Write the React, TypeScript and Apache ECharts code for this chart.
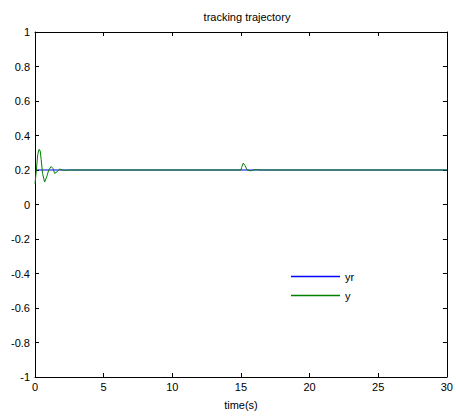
import React, { useEffect, useRef } from "react";
import * as echarts from "echarts";

const titleText = "tracking trajectory";
const xName = "time(s)";
const seriesNames = ["yr", "y"];

const yrTime = [0, 30];
const yrValues = [0.2, 0.2];

const yTime = [0, 0.1, 0.2, 0.3, 0.38, 0.45, 0.55, 0.7, 0.85, 1.0, 1.18, 1.3, 1.43, 1.6, 1.8, 2.0, 2.2, 2.5, 3, 15, 15.05, 15.17, 15.3, 15.45, 15.7, 15.9, 16.1, 16.3, 30];
const yValues = [0.12, 0.2, 0.29, 0.32, 0.31, 0.26, 0.18, 0.13, 0.16, 0.2, 0.22, 0.21, 0.18, 0.19, 0.205, 0.2, 0.198, 0.2, 0.2, 0.2, 0.215, 0.24, 0.225, 0.2, 0.195, 0.2, 0.203, 0.2, 0.2];

const font = "Liberation Sans, Arial, sans-serif";
const colors = ["#0000ff", "#008000"];

export default function App() {
  const ref = useRef<HTMLDivElement>(null);
  useEffect(() => {
    if (!ref.current) return;
    const chart = echarts.init(ref.current, undefined, { renderer: "svg" });
    const axisCommon = {
      axisLine: { show: true, onZero: false, lineStyle: { color: "#000", width: 1 } },
      axisTick: { show: true, inside: true, length: 4, lineStyle: { color: "#000" } },
      splitLine: { show: false },
    };
    chart.setOption({
      animation: false,
      backgroundColor: "#fff",
      title: {
        text: titleText,
        left: 242,
        textAlign: "center",
        top: 6,
        textStyle: { fontFamily: font, fontSize: 11, fontWeight: "normal", color: "#000" },
      },
      legend: {
        orient: "vertical",
        left: 286,
        top: 266,
        itemWidth: 49,
        itemHeight: 1.5,
        itemGap: 8,
        icon: "rect",
        textStyle: { fontFamily: font, fontSize: 11, color: "#000" },
        data: seriesNames.map((n, i) => ({ name: n, itemStyle: { color: colors[i] } })),
      },
      grid: { left: 35, right: 7, top: 32, bottom: 39, containLabel: false },
      xAxis: [
        {
          type: "value",
          min: 0,
          max: 30,
          interval: 5,
          name: xName,
          nameLocation: "middle",
          nameGap: 22,
          nameTextStyle: { fontFamily: font, fontSize: 11, color: "#000" },
          axisLabel: { fontFamily: font, fontSize: 11, color: "#000", margin: 4 },
          ...axisCommon,
        },
        {
          type: "value",
          position: "top",
          min: 0,
          max: 30,
          interval: 5,
          axisLabel: { show: false },
          ...axisCommon,
        },
      ],
      yAxis: [
        {
          type: "value",
          min: -1,
          max: 1,
          interval: 0.2,
          axisLabel: { fontFamily: font, fontSize: 11, color: "#000", margin: 5 },
          ...axisCommon,
        },
        {
          type: "value",
          position: "right",
          min: -1,
          max: 1,
          interval: 0.2,
          axisLabel: { show: false },
          ...axisCommon,
        },
      ],
      series: [
        {
          name: seriesNames[0],
          type: "line",
          showSymbol: false,
          color: colors[0],
          lineStyle: { width: 1, color: colors[0] },
          data: yrTime.map((t, i) => [t, yrValues[i]]),
        },
        {
          name: seriesNames[1],
          type: "line",
          showSymbol: false,
          color: colors[1],
          lineStyle: { width: 1, color: colors[1] },
          data: yTime.map((t, i) => [t, yValues[i]]),
        },
      ],
    });
    return () => chart.dispose();
  }, []);
  return <div ref={ref} style={{ position: "fixed", left: 0, top: 0, width: 456, height: 416 }} />;
}
